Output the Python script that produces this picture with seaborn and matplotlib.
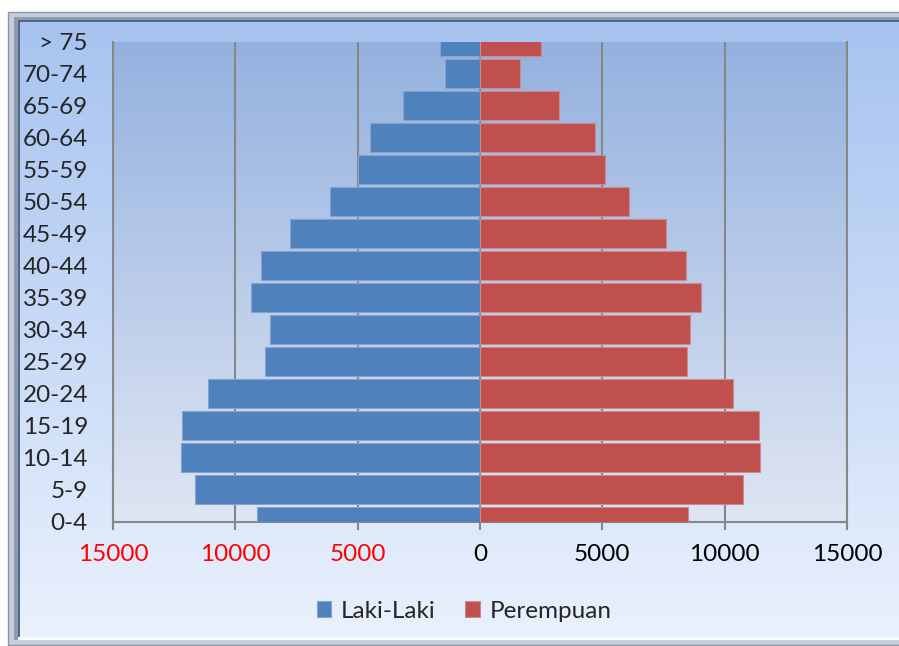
import seaborn as sns
import matplotlib.pyplot as plt
import matplotlib.patches as mpatches
import matplotlib.colors as mcolors
import numpy as np
import pandas as pd

# age groups, top of the pyramid first
age_groups = ["> 75", "70-74", "65-69", "60-64", "55-59", "50-54", "45-49", "40-44",
              "35-39", "30-34", "25-29", "20-24", "15-19", "10-14", "5-9", "0-4"]
laki_laki = [1650, 1440, 3130, 4480, 4970, 6140, 7780, 8940,
             9350, 8570, 8780, 11100, 12160, 12210, 11650, 9130]
perempuan = [2490, 1640, 3220, 4700, 5110, 6080, 7600, 8410,
             9050, 8600, 8480, 10330, 11390, 11450, 10740, 8520]
x_ticks = [-15000, -10000, -5000, 0, 5000, 10000, 15000]

W, H = 899, 646
BLUE = "#4F81BD"
RED = "#C0504D"
GRID = "#878787"
FS = 17.5

df = pd.DataFrame({"umur": age_groups,
                   "laki": -np.array(laki_laki),
                   "perempuan": perempuan})

sns.set_theme(style="white")
plt.rcParams["font.family"] = ["Lato", "DejaVu Sans"]


def fbox(x0, y0, x1, y1):
    # pixel box (top-left origin) -> figure fraction [l, b, w, h]
    return [x0 / W, 1 - y1 / H, (x1 - x0) / W, (y1 - y0) / H]


def gradient(ax, top, bottom, extent=None):
    c0 = np.array(mcolors.to_rgb(top))
    c1 = np.array(mcolors.to_rgb(bottom))
    t = np.linspace(0, 1, 256)[:, None, None]
    img = c0 * (1 - t) + c1 * t
    img = np.repeat(img, 2, axis=1)
    ax.imshow(img, aspect="auto", extent=extent, origin="upper",
              interpolation="bilinear", zorder=0)


fig = plt.figure(figsize=(W / 100, H / 100), dpi=100)
fig.patch.set_facecolor("white")


# chart frame (bevel)
def frame_rect(x0, y0, x1, y1, color, ec="none", lw=0):
    l, b, w, h = fbox(x0, y0, x1, y1)
    fig.patches.append(mpatches.Rectangle((l, b), w, h, transform=fig.transFigure,
                                          facecolor=color, edgecolor=ec, lw=lw, zorder=-5))


frame_rect(8, 12, 905, 645, "#C3CFE0", ec="#8F969E", lw=1)
frame_rect(14, 17, 905, 640, "#8D9BB1")
frame_rect(18, 20, 905, 638, "#56688A")
frame_rect(18, 637, 905, 640, "#F7FAFF")

# chart area gradient
bg = fig.add_axes(fbox(20, 22, W, 637), zorder=-1)
gradient(bg, "#A6C3F0", "#EAF1FD")
bg.set_axis_off()

# plot area
ax = fig.add_axes(fbox(113, 41.7, 847, 521.7))
ax.patch.set_alpha(0)
gradient(ax, "#94B1DF", "#DFE6F3", extent=(-15000, 15000, 15, 0))

sns.barplot(data=df, x="laki", y="umur", color=BLUE, saturation=1, width=0.9,
            edgecolor="#83A3D0", linewidth=0.8, label="Laki-Laki", ax=ax, zorder=3)
sns.barplot(data=df, x="perempuan", y="umur", color=RED, saturation=1, width=0.9,
            edgecolor="#CC8A90", linewidth=0.8, label="Perempuan", ax=ax, zorder=3)

ax.set_xlim(-15000, 15000)
ax.set_ylim(15, 0)
ax.set_xlabel("")
ax.set_ylabel("")

ax.set_xticks(x_ticks)
ax.set_xticklabels([str(abs(v)) for v in x_ticks])
for lab, v in zip(ax.get_xticklabels(), x_ticks):
    lab.set_color("red" if v < 0 else "black")

ax.grid(axis="x", color=GRID, lw=1.5, zorder=1)
ax.grid(axis="y", visible=False)
ax.set_axisbelow(True)
for side in ["left", "right", "bottom"]:
    ax.spines[side].set_visible(True)
    ax.spines[side].set_color(GRID)
    ax.spines[side].set_linewidth(1.5)
ax.spines["top"].set_visible(False)

ax.tick_params(axis="x", which="major", bottom=True, length=6, width=1.5,
               color=GRID, labelsize=FS, pad=10)
ax.tick_params(axis="y", left=False, length=0, labelsize=FS, pad=18)

leg = ax.legend(loc="center", bbox_to_anchor=(464 / W, 1 - 611 / H),
                bbox_transform=fig.transFigure, ncol=2, frameon=False, fontsize=FS,
                handlelength=0.6, handleheight=0.6, handletextpad=0.4,
                columnspacing=1.2)

fig.savefig("out.png", dpi=100)
